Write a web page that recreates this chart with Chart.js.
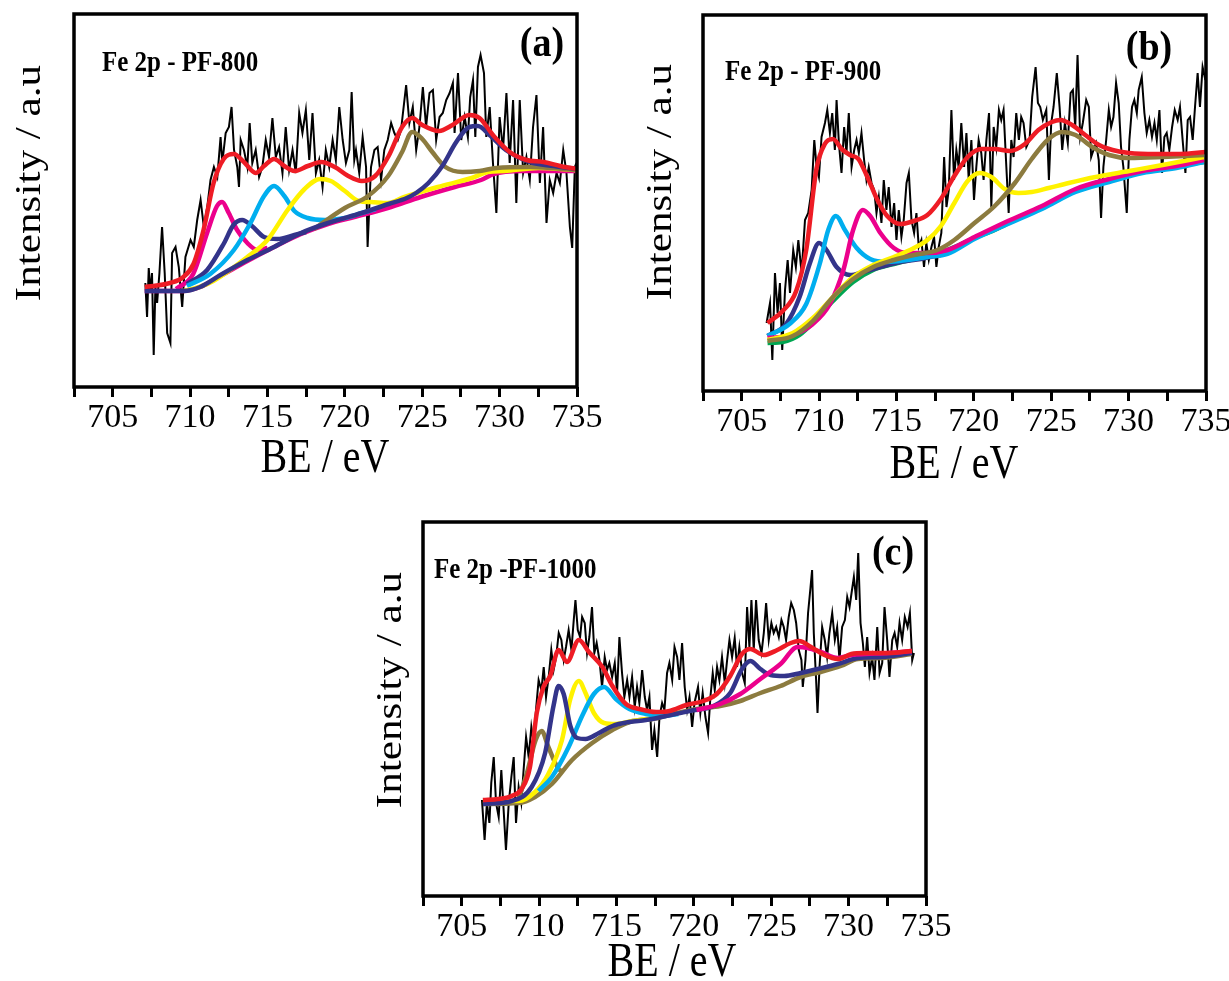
<!DOCTYPE html>
<html>
<head>
<meta charset="utf-8">
<title>Fe 2p XPS</title>
<script src="https://cdn.jsdelivr.net/npm/chart.js@4.4.1/dist/chart.umd.min.js"></script>
<style>
  html, body { margin: 0; padding: 0; background: #fff; width: 1229px; height: 981px; overflow: hidden; }
  canvas { position: absolute; }
</style>
</head>
<body>
<canvas id="pf800" width="620" height="490" style="left:0;top:0"></canvas>
<canvas id="pf900" width="650" height="500" style="left:610px;top:0"></canvas>
<canvas id="pf1000" width="640" height="500" style="left:330px;top:500px"></canvas>
<script>
// Binding energy (eV) / intensity (a.u.) pairs

// ---- PF-800 ----
const pf800Raw = [[707.11,104],[707.22,70],[707.33,119],[707.44,94],[707.54,114],[707.65,32],[707.76,100],[707.87,84],[708.02,114],[708.19,160],[708.36,114],[708.52,54],[708.73,44],[708.84,134],[709.06,140],[709.27,120],[709.49,80],[709.7,130],[710.03,147],[710.24,140],[710.46,167],[710.68,187],[710.89,160],[711.11,180],[711.32,207],[711.54,220],[711.76,210],[711.97,250],[712.08,224],[712.3,254],[712.51,260],[712.68,280],[712.84,237],[713.05,220],[713.16,200],[713.27,247],[713.48,237],[713.7,220],[713.85,264],[714.02,224],[714.24,237],[714.46,210],[714.67,220],[714.89,247],[715.1,230],[715.32,269],[715.54,230],[715.75,240],[715.97,214],[716.18,260],[716.4,217],[716.62,237],[716.83,214],[717.05,274],[717.26,254],[717.48,277],[717.7,227],[717.91,274],[718.13,214],[718.34,227],[718.56,200],[718.77,237],[718.99,220],[719.21,247],[719.42,227],[719.64,280],[719.86,247],[720.07,224],[720.29,237],[720.44,295],[720.61,227],[720.72,237],[720.93,214],[721.15,250],[721.37,220],[721.47,140],[721.69,220],[721.91,237],[722.12,240],[722.34,207],[722.55,237],[722.77,247],[722.99,264],[723.2,254],[723.42,247],[723.63,257],[723.96,302],[724.17,264],[724.39,280],[724.61,237],[724.82,260],[725.04,300],[725.25,260],[725.47,294],[725.69,297],[725.9,247],[726.12,270],[726.33,274],[726.55,287],[726.77,294],[726.98,304],[727.09,254],[727.31,314],[727.52,247],[727.74,270],[727.95,250],[728.1,290],[728.28,307],[728.43,250],[728.6,320],[728.77,332],[728.99,314],[729.14,250],[729.36,280],[729.57,224],[729.79,174],[730,270],[730.22,237],[730.44,294],[730.65,224],[730.87,287],[731.08,184],[731.3,287],[731.52,214],[731.73,230],[731.95,207],[732.16,260],[732.38,292],[732.6,204],[732.81,260],[733.03,164],[733.24,207],[733.46,194],[733.68,214],[733.89,204],[734.11,237],[734.32,214],[734.54,160],[734.69,139],[734.86,220],[734.97,224]];
const pf800Envelope = [[707.07,100],[708.7,104],[709.57,110],[710.22,123],[710.87,157],[711.52,204],[712.17,228],[712.83,233],[713.48,225],[714.24,214],[714.78,221],[715.43,228],[716.09,221],[716.74,216],[717.61,221],[718.48,225],[719.35,220],[720.22,211],[721.09,206],[721.96,211],[722.83,231],[723.7,260],[724.35,269],[725,262],[726.09,256],[726.96,262],[728.04,272],[728.7,269],[729.57,252],[730.65,235],[731.74,227],[732.83,225],[733.91,221],[735,218]];
const pf800Peak712 = [[709.1,98],[710.2,113],[711.1,154],[711.74,181],[712.07,185],[712.5,174],[713.04,157],[713.7,144],[714.35,137],[715,139]];
const pf800Peak713 = [[709.8,103],[711.1,117],[712.2,144],[712.8,162],[713.37,167],[714,161],[714.78,150],[715.65,148],[716.74,152],[717.5,155]];
const pf800Peak715 = [[709.8,101],[711.3,113],[712.83,137],[713.9,164],[714.78,191],[715.43,201],[716.09,191],[716.74,176],[717.6,169],[718.7,167],[720,169],[721.1,174],[722,178]];
const pf800Peak718 = [[709.6,96],[710.6,100],[711.5,106],[713.7,130],[715,147],[716.3,177],[717.4,198],[718.4,208],[719.1,206],[720,196],[720.9,186],[721.69,185],[722.77,184],[723.85,190],[726,200],[728.2,209],[729.25,215],[730.3,216],[732.5,219],[735,217]];
const pf800Peak724 = [[718,158],[720,179],[721.5,191],[722.8,211],[723.7,235],[724.35,255],[725,248],[725.65,235],[726.5,220],[727.6,215],[728.7,216],[729.8,219],[731.96,220],[735,217]];
const pf800Peak728 = [[707.07,96],[709.57,96],[710.65,100],[711.96,112],[713.7,127],[715.43,140],[717.17,154],[718.91,164],[721.09,174],[722.83,183],[724,189],[724.6,194],[725.4,204],[726.3,221],[727.2,245],[728.04,260],[728.6,261],[729.35,252],[730.4,237],[731.96,225],[733.5,221],[735,218]];
const pf800Background = [[707.07,96],[709.57,96],[710.65,100],[711.96,111],[713.7,126],[715.43,140],[717.17,153],[718.91,163],[720.61,170],[722.77,179],[724.9,190],[727.1,200],[728.8,207],[729.6,213],[731.4,216],[735,216]];

// ---- PF-900 ----
const pf900Raw = [[706.61,68],[706.83,88],[706.98,31],[707.15,118],[707.32,78],[707.47,108],[707.62,41],[707.8,101],[707.97,131],[708.12,98],[708.33,141],[708.5,124],[708.66,151],[708.87,118],[709.09,171],[709.3,178],[709.52,201],[709.69,251],[709.84,224],[709.99,214],[710.16,254],[710.38,268],[710.53,281],[710.7,258],[710.85,278],[711.02,241],[711.13,291],[711.28,248],[711.45,218],[711.62,264],[711.77,238],[711.92,278],[712.1,224],[712.27,241],[712.42,251],[712.57,238],[712.74,258],[712.91,231],[713.06,211],[713.21,224],[713.39,208],[713.56,201],[713.71,178],[713.86,194],[714.03,168],[714.18,211],[714.35,181],[714.5,204],[714.68,164],[714.85,188],[715,151],[715.15,181],[715.32,154],[715.47,171],[715.65,208],[715.8,218],[715.97,171],[716.14,158],[716.29,178],[716.44,144],[716.61,151],[716.78,124],[716.93,148],[717.09,131],[717.26,144],[717.43,154],[717.58,124],[717.73,144],[717.9,158],[718.08,234],[718.23,184],[718.38,201],[718.55,281],[718.72,211],[718.87,241],[719.02,224],[719.19,268],[719.37,224],[719.52,258],[719.67,211],[719.84,251],[720.01,191],[720.16,224],[720.31,251],[720.48,238],[720.63,211],[720.81,251],[720.98,278],[721.13,184],[721.28,264],[721.45,244],[721.62,281],[721.77,271],[721.92,281],[722.1,224],[722.25,178],[722.42,251],[722.57,234],[722.74,278],[722.91,251],[723.06,274],[723.21,268],[723.39,244],[723.6,251],[723.77,294],[723.99,324],[724.14,288],[724.29,284],[724.46,271],[724.68,281],[724.85,211],[725,268],[725.15,284],[725.36,318],[725.54,284],[725.71,241],[725.88,268],[726.07,248],[726.25,298],[726.4,301],[726.55,264],[726.7,336],[726.87,254],[727.04,268],[727.26,291],[727.43,284],[727.58,234],[727.73,241],[727.9,248],[728.07,231],[728.22,173],[728.37,224],[728.55,251],[728.72,281],[728.87,264],[729.02,274],[729.19,308],[729.36,288],[729.51,244],[729.66,224],[729.88,178],[730.05,251],[730.22,284],[730.37,291],[730.53,278],[730.65,301],[730.85,314],[731.02,278],[731.17,258],[731.34,271],[731.51,254],[731.67,268],[731.82,251],[731.99,281],[732.16,218],[732.31,254],[732.46,258],[732.63,241],[732.81,264],[732.98,281],[733.17,271],[733.32,284],[733.49,251],[733.67,218],[733.82,271],[733.97,274],[734.14,251],[734.29,284],[734.46,318],[734.61,284],[734.78,324],[734.96,311]];
const pf900Envelope = [[706.67,68],[707.65,80],[708.52,100],[709.17,141],[709.83,222],[710.37,247],[710.9,252],[711.46,242],[712,236],[712.54,232],[713.09,215],[713.74,192],[714.4,175],[715.26,167],[716.13,170],[717,176],[717.87,192],[718.74,215],[719.6,234],[720.48,242],[721.35,242],[722.33,240],[723.3,247],[724.17,261],[725.04,269],[725.59,271],[726.35,266],[727.2,256],[728.09,246],[728.96,241],[730.04,238],[731.78,237],[733.3,237],[735,239]];
const pf900Peak710 = [[706.67,55],[707.87,67],[708.74,94],[709.39,127],[710,148],[710.48,141],[711.13,124],[712,116],[712.87,119],[713.96,124],[715.26,129],[716.57,132],[717.87,136]];
const pf900Peak711 = [[706.67,55],[708.09,67],[709.17,87],[710.04,127],[710.59,161],[711.09,175],[711.67,161],[712.43,143],[713.3,132],[714.4,129],[715.7,131],[717,134],[718.3,137],[720.04,152],[722.2,167],[724.4,182],[726.57,199],[728.74,209],[730.9,218],[733.09,223],[734.87,229]];
const pf900Peak713 = [[706.67,53],[708.3,56],[709.6,67],[710.7,87],[711.57,121],[712.2,161],[712.83,181],[713.3,175],[713.96,158],[714.83,143],[715.7,138],[717,138],[718.3,141],[720.04,154],[722.2,170],[724.4,185],[726.57,202],[728.74,212],[730.9,220],[733.09,225],[734.87,231]];
const pf900Peak720 = [[706.67,51],[708.3,58],[709.6,73],[710.9,94],[712.2,114],[713.5,126],[714.83,134],[716.13,143],[717,151],[717.87,165],[718.74,188],[719.6,210],[720.37,218],[721.13,214],[722,202],[722.87,198],[723.74,199],[724.83,203],[726.13,208],[727.87,214],[730.04,220],[732.2,226],[734.87,234]];
const pf900Peak726 = [[706.67,50],[708.3,55],[709.6,70],[710.9,94],[712.2,112],[713.5,124],[714.83,131],[716.13,136],[717.65,141],[718.74,151],[720.04,168],[721.35,185],[722.65,208],[723.74,232],[724.83,252],[725.7,259],[726.57,256],[727.65,244],[728.74,236],[730.04,233],[732.2,234],[734.87,236]];
const pf900Background = [[706.67,48],[707.65,49],[708.74,56],[709.83,72],[710.9,90],[712.2,109],[713.5,121],[714.83,127],[716.13,132],[717.43,136],[718.74,144],[720.04,153],[721.35,161],[722.65,171],[723.96,180],[725.26,190],[726.57,200],[727.87,208],[729.6,215],[731.35,222],[733.09,225],[734.87,229]];

// ---- PF-1000 ----
const pf1000Raw = [[706.31,96],[706.48,56],[706.63,93],[706.79,73],[706.91,113],[707.07,139],[707.22,93],[707.39,79],[707.56,126],[707.71,86],[707.86,46],[708.04,93],[708.21,119],[708.36,139],[708.51,73],[708.68,109],[708.85,93],[709,126],[709.16,159],[709.33,139],[709.5,169],[709.65,153],[709.8,186],[709.97,216],[710.15,206],[710.3,229],[710.45,199],[710.62,219],[710.79,246],[710.94,226],[711.1,239],[711.27,263],[711.44,256],[711.59,236],[711.74,249],[711.91,266],[712.09,246],[712.24,276],[712.35,296],[712.5,266],[712.65,259],[712.78,279],[712.95,273],[713.1,243],[713.25,259],[713.42,289],[713.57,243],[713.72,253],[713.9,236],[714.07,209],[714.24,239],[714.39,226],[714.54,233],[714.72,219],[714.89,233],[715.04,203],[715.19,259],[715.36,223],[715.51,199],[715.69,216],[715.84,199],[716.01,219],[716.18,189],[716.33,209],[716.48,193],[716.66,226],[716.83,199],[716.98,186],[717.13,199],[717.3,146],[717.45,166],[717.63,139],[717.78,179],[717.95,193],[718.1,186],[718.27,223],[718.42,233],[718.6,216],[718.75,249],[718.92,239],[719.07,216],[719.24,253],[719.41,209],[719.57,186],[719.72,199],[719.89,169],[720.04,193],[720.27,209],[720.42,183],[720.57,203],[720.75,179],[720.92,163],[721.07,199],[721.22,223],[721.35,206],[721.5,229],[721.65,216],[721.82,239],[722,213],[722.15,236],[722.3,256],[722.47,239],[722.64,258],[722.79,229],[722.94,249],[723.12,223],[723.29,213],[723.44,289],[723.59,249],[723.72,296],[723.87,246],[724.02,296],[724.19,256],[724.37,243],[724.52,263],[724.67,293],[724.84,256],[725.01,273],[725.16,263],[725.32,269],[725.49,259],[725.66,276],[725.81,269],[725.96,256],[726.13,279],[726.29,293],[726.46,286],[726.61,273],[726.78,246],[726.95,236],[727.04,209],[727.21,236],[727.38,283],[727.54,309],[727.64,326],[727.75,263],[727.9,216],[727.99,183],[728.12,229],[728.29,269],[728.46,256],[728.61,239],[728.76,263],[728.94,283],[729.11,256],[729.26,269],[729.41,236],[729.58,269],[729.76,276],[729.91,299],[730.06,289],[730.19,303],[730.34,319],[730.49,296],[730.62,343],[730.77,273],[730.92,253],[731.05,229],[731.2,259],[731.35,223],[731.52,239],[731.67,216],[731.85,269],[732,223],[732.17,233],[732.32,289],[732.49,256],[732.64,219],[732.82,256],[732.97,263],[733.14,249],[733.29,273],[733.46,256],[733.63,279],[733.81,269],[733.96,283],[734.11,236],[734.22,243]];
const pf1000Envelope = [[706.37,96],[707.35,97],[708.22,100],[708.87,107],[709.41,129],[709.85,183],[710.28,209],[710.72,220],[711.26,246],[711.8,234],[712.57,256],[713.22,244],[714.09,229],[714.74,210],[715.61,192],[716.48,187],[717.57,184],[718.43,185],[719.52,191],[720.61,195],[721.48,202],[722.35,220],[723.11,242],[723.65,247],[724.52,241],[725.39,246],[726.26,253],[726.8,255],[727.57,249],[728.43,241],[729.3,237],[730.17,242],[731.04,243],[732.57,243],[734.09,245]];
const pf1000Peak710 = [[708.65,96],[709.2,122],[709.78,156],[710.17,165],[710.6,149],[711.26,127],[711.5,125]];
const pf1000Peak711 = [[706.37,92],[708.22,95],[709.52,109],[710.39,143],[710.93,190],[711.26,210],[711.59,202],[712.02,170],[712.46,158],[713,157],[713.87,163],[714.74,170],[715.83,174],[716.9,176],[718.2,180],[719.74,185],[721.26,190],[722.35,203],[723.11,227],[723.65,235],[724.3,227],[724.96,221],[725.83,220],[726.91,223],[728,227],[729.3,232],[730.6,238],[732.13,239],[734.09,243]];
const pf1000Peak712 = [[706.37,95],[708.65,95],[709.74,104],[710.6,122],[711.48,156],[712.02,197],[712.57,215],[713,203],[713.54,183],[714.2,173],[714.96,172],[716.04,175],[717.35,178]];
const pf1000Peak714 = [[709.96,105],[710.83,119],[711.91,149],[712.78,180],[713.54,202],[714.2,209],[714.96,197],[715.83,187],[716.91,182],[718,180],[719,182]];
const pf1000Peak727 = [[720.17,186],[721.7,192],[723,202],[724.3,217],[725.6,232],[726.7,249],[727.35,248],[728.2,244],[729.3,238],[730.17,241],[731.04,242],[732.57,243],[734.09,245]];
const pf1000Background = [[706.37,92],[708.65,93],[709.74,99],[710.83,112],[712.13,136],[713.43,153],[714.74,166],[716.04,175],[717.35,177],[718.65,182],[720.17,187],[721.7,190],[723,195],[724.3,203],[725.6,210],[726.9,219],[728.2,224],[729.5,230],[730.6,237],[732.13,238],[734.09,242]];

const RED = '#ee1c25', MAGENTA = '#ec008c', NAVY = '#33348a', CYAN = '#00aeef',
      YELLOW = '#fff200', OLIVE = '#8c7b3f', GREEN = '#00a651', BLACK = '#000';
const SERIF = '"Liberation Serif", "Times New Roman", serif';

Chart.defaults.font.family = SERIF;

// frame round the plot plus the free-standing labels
const panelText = {
  id: 'panelText',
  afterDraw(chart, args, opts) {
    const ctx = chart.ctx;
    const a = chart.chartArea;
    ctx.save();
    ctx.lineWidth = 3.5;
    ctx.strokeStyle = BLACK;
    ctx.strokeRect(a.left, a.top, a.right - a.left, a.bottom - a.top);
    ctx.fillStyle = BLACK;
    for (const t of opts.items) {
      ctx.save();
      ctx.translate(t.x, t.y);
      if (t.rotate) ctx.rotate(-Math.PI / 2);
      ctx.scale(t.sx || 1, t.sy || 1);
      ctx.font = t.font;
      ctx.textAlign = t.align || 'center';
      ctx.textBaseline = 'middle';
      ctx.fillText(t.text, 0, 0);
      ctx.restore();
    }
    ctx.restore();
  }
};

function line(points, color, width, smooth) {
  return {
    data: points.map(([x, y]) => ({ x, y })),
    borderColor: color,
    borderWidth: width,
    cubicInterpolationMode: smooth ? 'monotone' : 'default',
    tension: 0,
    pointRadius: 0,
    fill: false
  };
}

function texts(letter, name, pos) {
  return [
    { text: 'Intensity / a.u', x: pos.yt[0], y: pos.yt[1], rotate: true, sx: 1.2, font: '36px ' + SERIF },
    { text: 'BE / eV', x: pos.xt[0], y: pos.xt[1], sy: 1.2, font: '40px ' + SERIF },
    { text: name, x: pos.name[0], y: pos.name[1], align: 'left', sy: 1.15, font: 'bold 25px ' + SERIF },
    { text: letter, x: pos.tag[0], y: pos.tag[1], sy: 1.1, font: 'bold 38px ' + SERIF }
  ];
}

// plot box in canvas pixels: left, top, right, bottom
function makePanel(id, box, datasets, items) {
  const cv = document.getElementById(id);
  new Chart(cv, {
    type: 'line',
    data: { datasets },
    plugins: [panelText],
    options: {
      responsive: false,
      animation: false,
      events: [],
      layout: { padding: { left: box[0], top: box[1], right: cv.width - box[2], bottom: 0 } },
      plugins: { legend: { display: false }, tooltip: { enabled: false }, panelText: { items } },
      scales: {
        x: {
          type: 'linear', min: 702.5, max: 735,
          afterFit: s => { s.height = cv.height - box[3]; },
          border: { display: false },
          grid: { drawOnChartArea: false, drawTicks: true, tickLength: 10, tickWidth: 3, tickColor: BLACK },
          ticks: {
            stepSize: 2.5, autoSkip: false, maxRotation: 0, padding: 1, color: BLACK,
            font: { size: 34 },
            callback: v => (v % 5 === 0 ? String(v) : '')
          }
        },
        y: { display: false, min: 0, max: box[3] - box[1] }
      }
    }
  });
}

makePanel('pf800', [74, 14, 577, 387], [
  line(pf800Envelope, RED, 4.5, true),
  line(pf800Peak728, NAVY, 4.5, true),
  line(pf800Peak724, OLIVE, 4.5, true),
  line(pf800Peak718, YELLOW, 4.5, true),
  line(pf800Peak715, CYAN, 4.5, true),
  line(pf800Peak713, NAVY, 4.5, true),
  line(pf800Peak712, MAGENTA, 4.5, true),
  line(pf800Background, MAGENTA, 4.5, true),
  line(pf800Raw, BLACK, 2, false)
], texts('(a)', 'Fe 2p - PF-800', { yt: [31, 183], xt: [325, 459], name: [102, 64], tag: [542, 45] }));

makePanel('pf900', [93, 15, 596, 391], [
  line(pf900Envelope, RED, 4.5, true),
  line(pf900Peak726, OLIVE, 4.5, true),
  line(pf900Peak720, YELLOW, 4.5, true),
  line(pf900Peak713, MAGENTA, 4.5, true),
  line(pf900Peak711, CYAN, 4.5, true),
  line(pf900Peak710, NAVY, 4.5, true),
  line(pf900Background, GREEN, 4.5, true),
  line(pf900Raw, BLACK, 2, false)
], texts('(b)', 'Fe 2p - PF-900', { yt: [52, 182], xt: [344, 465], name: [115, 73], tag: [539, 49] }));

makePanel('pf1000', [93, 22, 596, 396], [
  line(pf1000Envelope, RED, 4.5, true),
  line(pf1000Peak727, MAGENTA, 4.5, true),
  line(pf1000Peak711, NAVY, 4.5, true),
  line(pf1000Peak714, CYAN, 4.5, true),
  line(pf1000Peak712, YELLOW, 4.5, true),
  line(pf1000Peak710, OLIVE, 4.5, true),
  line(pf1000Background, OLIVE, 4.5, true),
  line(pf1000Raw, BLACK, 2, false)
], texts('(c)', 'Fe 2p -PF-1000', { yt: [62, 190], xt: [342, 463], name: [104, 71], tag: [563, 54] }));
</script>
</body>
</html>
